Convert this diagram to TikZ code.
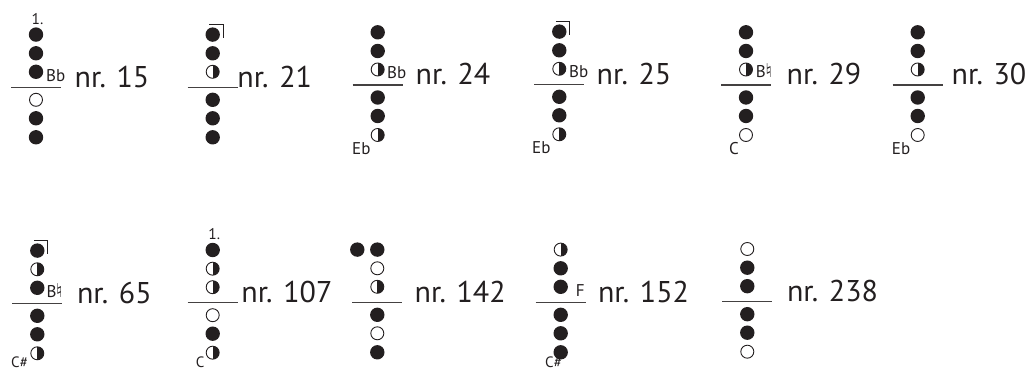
\documentclass[tikz,border=0pt]{standalone}
\usepackage{fontspec}
\setmainfont{PT Sans}
\newfontfamily\symfont{DejaVu Sans}
\definecolor{ink}{RGB}{35,31,32}
\tikzset{
  fc/.style={circle, fill=ink, inner sep=0pt, minimum size=14.4pt},
  oc/.style={circle, draw=ink, line width=0.9pt, fill=white, inner sep=0pt, minimum size=13pt},
  hc/.style={circle, draw=ink, line width=0.9pt, inner sep=0pt, minimum size=13pt,
     path picture={\fill[ink] (path picture bounding box.north) rectangle (path picture bounding box.south east);}},
  staff/.style={draw=ink!85, line width=1.3pt},
  brk/.style={draw=ink, line width=0.9pt},
  nrlab/.style={anchor=base west, inner sep=0pt, text=ink, font=\fontsize{30}{30}\selectfont},
  small/.style={anchor=base west, inner sep=0pt, text=ink, font=\fontsize{17}{17}\selectfont},
  bottomlab/.style={anchor=base west, inner sep=0pt, text=ink, font=\fontsize{15}{15}\selectfont},
  onelab/.style={anchor=base, inner sep=0pt, text=ink, font=\fontsize{15.5}{15.5}\selectfont},
}
\newcommand\natsign{{\symfont\fontsize{19}{19}\selectfont\kern-0.5pt ♮}}
\newcommand\fing[9]{%
  \draw[staff] (#2-25,#3) -- (#2+25,#3);
  \node[#4] (#1a) at (#2,#3-52.7) {};
  \node[#5] (#1b) at (#2,#3-34) {};
  \node[#6] (#1c) at (#2,#3-15.5) {};
  \node[#7] (#1d) at (#2,#3+12.5) {};
  \node[#8] (#1e) at (#2,#3+31) {};
  \node[#9] (#1f) at (#2,#3+50) {};
}
\newcommand\brkt[1]{\draw[brk] ([shift={(-3.5,-10.5)}]#1.center) -- ++(14,0) -- ++(0,13.5);}
\begin{document}
\begin{tikzpicture}[x=1pt, y=-1pt]
\useasboundingbox (0,0) rectangle (1029,371);
% row 1
\fing{A}{36}{87.3}{fc}{fc}{fc}{oc}{fc}{fc}
\node[onelab] (A1) at (37.5,25) {1.};
\node[small] (Ab) at (46,81.7) {Bb};
\node[nrlab] (An) at (74.5,87.3) {nr. 15};

\fing{B}{212.7}{87.3}{fc}{fc}{hc}{fc}{fc}{fc}
\brkt{Ba}
\node[nrlab] (Bn) at (237.2,87.3) {nr. 21};

\fing{C}{377.7}{85}{fc}{fc}{hc}{fc}{fc}{hc}
\node[small] (Cb) at (387,78.3) {Bb};
\node[small] (Ce) at (352,155) {Eb};
\node[nrlab] (Cn) at (415.5,85) {nr. 24};

\fing{D}{559.3}{84.3}{fc}{fc}{hc}{fc}{fc}{hc}
\brkt{Da}
\node[small] (Db) at (569,77.3) {Bb};
\node[small] (De) at (532,154) {Eb};
\node[nrlab] (Dn) at (596.5,85) {nr. 25};

\fing{E}{746}{85}{fc}{fc}{hc}{fc}{fc}{oc}
\node[small] (Eb) at (755.7,77.3) {B\natsign};
\node[small] (Ec) at (729,155) {C};
\node[nrlab] (En) at (786.5,85) {nr. 29};

\fing{F}{917.7}{85}{fc}{fc}{hc}{fc}{fc}{oc}
\node[small] (Fe) at (891.7,154.3) {Eb};
\node[nrlab] (Fn) at (951.5,85) {nr. 30};

% row 2
\fing{G}{37.3}{303.3}{fc}{hc}{fc}{fc}{fc}{hc}
\brkt{Ga}
\node[small] (Gb) at (46.3,297.3) {B\natsign};
\node[bottomlab] (Gc) at (11,367.5) {C\#};
\node[nrlab] (Gn) at (76.8,303.3) {nr. 65};

\fing{H}{212.7}{302.7}{fc}{hc}{hc}{oc}{fc}{hc}
\node[onelab] (H1) at (214.2,240) {1.};
\node[bottomlab] (Hc) at (195.7,367.5) {C};
\node[nrlab] (Hn) at (241.2,302.7) {nr. 107};

\fing{I}{377.3}{302.3}{fc}{oc}{hc}{fc}{oc}{fc}
\node[fc] (Ix) at (357.3,249.6) {};
\node[nrlab] (In) at (414.5,302.3) {nr. 142};

\fing{J}{560.7}{302.3}{hc}{fc}{fc}{fc}{fc}{fc}
\node[small] (Jf) at (575.7,296.7) {F};
\node[bottomlab] (Jc) at (545,367.5) {C\#};
\node[nrlab] (Jn) at (597.8,302.3) {nr. 152};

\fing{K}{747.3}{301.7}{oc}{fc}{fc}{fc}{fc}{oc}
\node[nrlab] (Kn) at (786.8,301.7) {nr. 238};
\end{tikzpicture}
\end{document}
